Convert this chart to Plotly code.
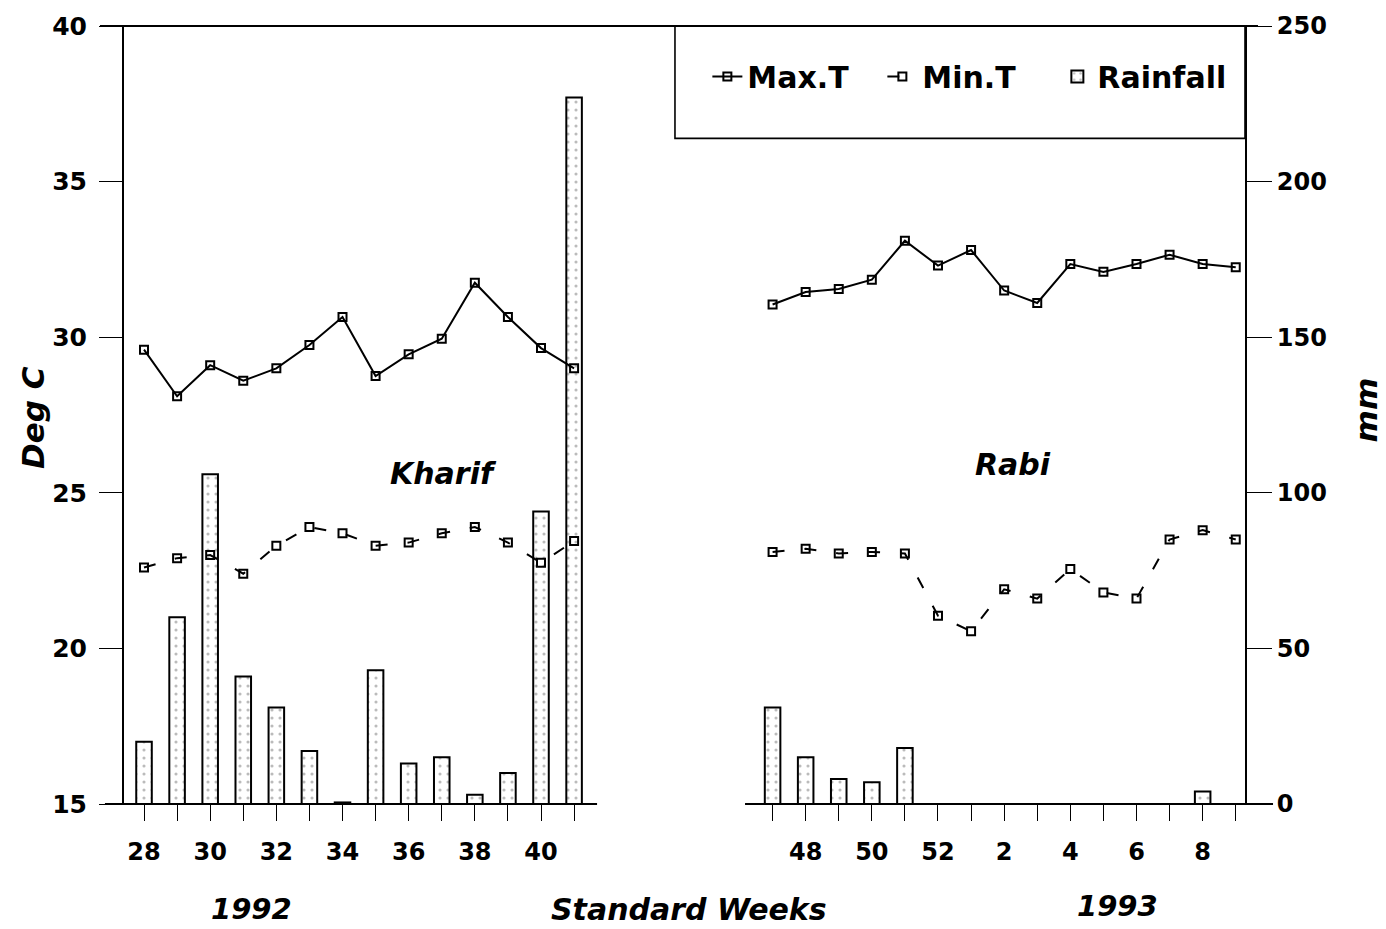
import plotly.graph_objects as go

# Standard weeks: Kharif season 1992 and Rabi season 1992-93
weeks_1992 = [28, 29, 30, 31, 32, 33, 34, 35, 36, 37, 38, 39, 40, 41]
max_t_1992 = [29.6, 28.1, 29.1, 28.6, 29.0, 29.75, 30.65, 28.75, 29.45, 29.95, 31.75, 30.65, 29.65, 29.0]
min_t_1992 = [22.6, 22.9, 23.0, 22.4, 23.3, 23.9, 23.7, 23.3, 23.4, 23.7, 23.9, 23.4, 22.75, 23.45]
rain_1992 = [20, 60, 106, 41, 31, 17, 0.5, 43, 13, 15, 3, 10, 94, 227]

weeks_1993 = [47, 48, 49, 50, 51, 52, 1, 2, 3, 4, 5, 6, 7, 8, 9]
max_t_1993 = [31.05, 31.45, 31.55, 31.85, 33.1, 32.3, 32.8, 31.5, 31.1, 32.35, 32.1, 32.35, 32.65, 32.35, 32.25]
min_t_1993 = [23.1, 23.2, 23.05, 23.1, 23.05, 21.05, 20.55, 21.9, 21.6, 22.55, 21.8, 21.6, 23.5, 23.8, 23.5]
rain_1993 = [31, 15, 8, 7, 18, 0, 0, 0, 0, 0, 0, 0, 0, 4, 0]

temp_ticks = [15, 20, 25, 30, 35, 40]
rain_ticks = [0, 50, 100, 150, 200, 250]


def week_pos(w):
    # weeks of the new year continue after week 52 on the axis
    return w if w >= 28 else w + 52


pos_1992 = [week_pos(w) for w in weeks_1992]
pos_1993 = [week_pos(w) for w in weeks_1993]

# None breaks the lines between the two seasons
line_x = pos_1992 + [None] + pos_1993
max_y = max_t_1992 + [None] + max_t_1993
min_y = min_t_1992 + [None] + min_t_1993

bar_x = pos_1992 + pos_1993
bar_y = rain_1992 + rain_1993

all_weeks = weeks_1992 + weeks_1993
tick_text = [str(w) if w % 2 == 0 else "" for w in all_weeks]

FONT = "DejaVu Sans"

fig = go.Figure()

# rainfall on the base y axis (right side) so the temperature lines sit on top
fig.add_trace(go.Bar(
    x=bar_x, y=bar_y, yaxis="y", name="Rainfall", width=0.47,
    marker=dict(
        color="white",
        line=dict(color="black", width=2),
        pattern=dict(shape=".", fgcolor="#777777", bgcolor="white", size=8, solidity=0.12),
    ),
    legendrank=3,
))

fig.add_trace(go.Scatter(
    x=line_x, y=max_y, yaxis="y2", name="Max.T", mode="lines+markers",
    line=dict(color="black", width=2),
    marker=dict(symbol="square-open", size=8, color="black", line=dict(width=2)),
    connectgaps=False, legendrank=1,
))

fig.add_trace(go.Scatter(
    x=line_x, y=min_y, yaxis="y2", name="Min.T", mode="lines+markers",
    line=dict(color="black", width=2, dash="12px,20px"),
    marker=dict(symbol="square-open", size=8, color="black", line=dict(width=2)),
    connectgaps=False, legendrank=2,
))

# plot area: left axis at x=124 px, right axis at x=1245 px
x_lo, x_hi = 27.395, 61.28

fig.update_layout(
    width=1386, height=929,
    margin=dict(l=124, r=141, t=22, b=125),
    paper_bgcolor="white", plot_bgcolor="white",
    font=dict(family=FONT, color="black", size=24, weight="bold"),
    barmode="overlay",
    showlegend=True,
    legend=dict(
        orientation="h", x=0.5204, y=0.935, xanchor="left", yanchor="middle",
        bgcolor="rgba(0,0,0,0)", borderwidth=0,
        font=dict(family=FONT, size=30, weight="bold"),
        traceorder="normal", itemwidth=30,
        entrywidth=130, entrywidthmode="pixels",
    ),
    xaxis=dict(
        range=[x_lo, x_hi], showgrid=False, zeroline=False, showline=False,
        tickmode="array", tickvals=bar_x, ticktext=tick_text,
        ticks="outside", ticklen=16, tickwidth=1.3, tickcolor="black",
        tickfont=dict(family=FONT, size=24, weight="bold"),
        ticklabelstandoff=10,
    ),
    yaxis=dict(
        range=[0, 250], tickvals=rain_ticks, side="right",
        showgrid=False, zeroline=False,
        showline=True, linecolor="black", linewidth=2,
        ticks="outside", ticklen=25, tickwidth=1.3, tickcolor="black",
        tickfont=dict(family=FONT, size=24, weight="bold"),
        ticklabelstandoff=0,
    ),
    yaxis2=dict(
        range=[15, 40], tickvals=temp_ticks, overlaying="y", side="left",
        showgrid=False, zeroline=False,
        showline=True, linecolor="black", linewidth=2,
        ticks="outside", ticklen=23, tickwidth=1.3, tickcolor="black",
        tickfont=dict(family=FONT, size=25, weight="bold"),
        ticklabelstandoff=7,
    ),
)

# broken baseline for the two seasons, top frame line and legend box
line_style = dict(color="black", width=2)
fig.add_shape(type="line", xref="paper", yref="paper", x0=-0.017, x1=0.422, y0=0, y1=0, line=line_style)
fig.add_shape(type="line", xref="paper", yref="paper", x0=0.554, x1=1.025, y0=0, y1=0, line=line_style)
fig.add_shape(type="line", xref="paper", yref="paper", x0=-0.0214, x1=1.0116, y0=1, y1=1, line=line_style)
fig.add_shape(type="rect", xref="paper", yref="paper", x0=0.4915, x1=1.0, y0=0.8555, y1=1.0,
              line=dict(color="black", width=1.6), fillcolor="rgba(0,0,0,0)")

title_font = dict(family=FONT, size=30, weight="bold", style="italic", color="black")


def label(text, x, y, angle=0, size=30):
    f = dict(title_font)
    f["size"] = size
    fig.add_annotation(text=text, x=x, y=y, xref="paper", yref="paper",
                       showarrow=False, textangle=angle, font=f,
                       xanchor="center", yanchor="middle")


label("Kharif", 0.2846, 0.4246)
label("Rabi", 0.793, 0.436)
label("1992", 0.114, -0.1355, size=29)
label("Standard Weeks", 0.504, -0.1355)
label("1993", 0.886, -0.1317, size=29)
label("Deg C", -0.0812, 0.4974, angle=-90, size=31)
label("mm", 1.108, 0.506, angle=-90, size=31)

fig.write_html("out.html")
